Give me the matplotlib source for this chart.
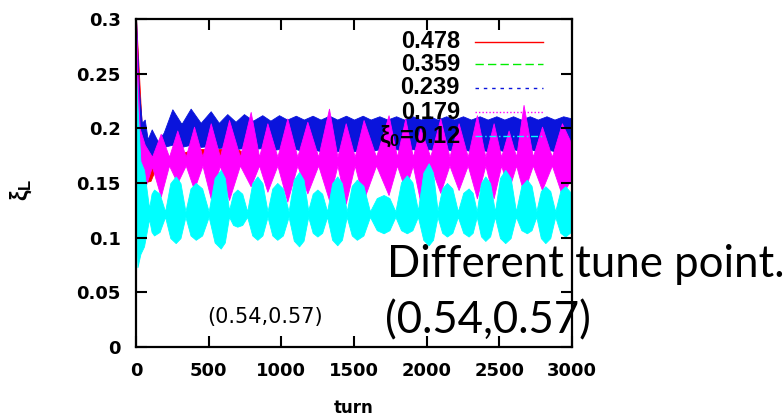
import numpy as np
import matplotlib
matplotlib.use('Agg')
import matplotlib.pyplot as plt

plt.rcParams['mathtext.fontset'] = 'custom'
plt.rcParams['mathtext.rm'] = 'Liberation Sans:bold'
plt.rcParams['mathtext.it'] = 'Liberation Sans:bold'

# envelope of xi_L vs turn for each xi_0 (upper / lower edge of the oscillation)
red_t = [0, 40, 100, 140, 200, 400, 700, 800, 3000]
red_hi = [0.300, 0.200, 0.185, 0.170, 0.172, 0.181, 0.181, 0.172, 0.172]
red_lo = [0.150, 0.150, 0.152, 0.165, 0.168, 0.168, 0.168, 0.168, 0.168]

green_t = [250, 3000]
green_hi = [0.205, 0.205]
green_lo = [0.186, 0.186]

blue_t = [0, 20, 40, 60, 80, 108, 150, 190, 250, 313, 376, 445, 514, 570, 628,
          685, 743, 805, 869, 925, 984, 1040, 1100, 1155, 1215, 1270, 1330, 1385,
          1445, 1500, 1560, 1615, 1675, 1730, 1790, 1845, 1905, 1960, 2020, 2075,
          2135, 2190, 2250, 2305, 2365, 2420, 2480, 2535, 2595, 2650, 2710, 2765,
          2825, 2880, 2940, 3000]
blue_hi = [0.300, 0.235, 0.205, 0.208, 0.190, 0.199, 0.188, 0.196, 0.2174, 0.204,
           0.218, 0.205, 0.2156, 0.205, 0.213, 0.206, 0.213, 0.207, 0.212, 0.207,
           0.212, 0.208, 0.2115, 0.208, 0.2115, 0.208, 0.2115, 0.208, 0.2115, 0.208,
           0.2115, 0.208, 0.211, 0.208, 0.211, 0.208, 0.211, 0.208, 0.211, 0.208,
           0.211, 0.208, 0.211, 0.208, 0.211, 0.208, 0.211, 0.208, 0.211, 0.208,
           0.211, 0.208, 0.211, 0.208, 0.211, 0.209]
blue_lo = [0.200, 0.170, 0.165, 0.170, 0.160, 0.165, 0.175, 0.183, 0.185, 0.183,
           0.185, 0.183, 0.184, 0.182, 0.183, 0.181, 0.182, 0.181, 0.182, 0.180,
           0.181, 0.179, 0.181, 0.179, 0.181, 0.179, 0.181, 0.179, 0.181, 0.179,
           0.181, 0.179, 0.181, 0.179, 0.181, 0.179, 0.181, 0.179, 0.181, 0.179,
           0.181, 0.179, 0.181, 0.179, 0.181, 0.179, 0.181, 0.179, 0.181, 0.179,
           0.181, 0.179, 0.181, 0.179, 0.181, 0.180]

magenta_t = [0, 10, 25, 60, 110, 170, 227, 284, 342, 399, 457, 514, 577, 640, 715,
             789, 847, 904, 973, 1041, 1110, 1179, 1254, 1328, 1386, 1443, 1505,
             1566, 1652, 1738, 1796, 1853, 1905, 1956, 2025, 2094, 2157, 2220, 2283,
             2346, 2404, 2461, 2513, 2564, 2616, 2667, 2731, 2794, 2862, 2931, 3000]
magenta_hi = [0.300, 0.250, 0.200, 0.185, 0.174, 0.195, 0.174, 0.198, 0.174, 0.2015,
              0.174, 0.2046, 0.174, 0.2076, 0.174, 0.215, 0.174, 0.2046, 0.174, 0.209,
              0.174, 0.206, 0.174, 0.218, 0.174, 0.2046, 0.174, 0.2076, 0.174, 0.212,
              0.174, 0.209, 0.174, 0.200, 0.174, 0.209, 0.174, 0.2046, 0.174, 0.212,
              0.174, 0.2046, 0.174, 0.198, 0.174, 0.2214, 0.174, 0.2015, 0.174, 0.2046,
              0.185]
magenta_lo = [0.160, 0.130, 0.140, 0.145, 0.165, 0.1375, 0.166, 0.150, 0.166, 0.144,
              0.166, 0.136, 0.166, 0.1345, 0.166, 0.147, 0.166, 0.142, 0.166, 0.133,
              0.166, 0.1405, 0.166, 0.1345, 0.166, 0.131, 0.166, 0.1345, 0.166, 0.139,
              0.166, 0.1436, 0.166, 0.133, 0.166, 0.141, 0.166, 0.1436, 0.166, 0.136,
              0.166, 0.136, 0.166, 0.1436, 0.166, 0.141, 0.166, 0.1436, 0.166, 0.139,
              0.155]

# one row per lobe: shoulder, crest, shoulder, waist
cyan_t = [0, 10, 30, 55, 90,
          107, 124, 162, 200,
          236, 273, 306, 340,
          375, 411, 455, 500,
          541, 583, 611, 640,
          668, 697, 731, 765,
          800, 835, 870, 905,
          938, 972, 1011, 1050,
          1086, 1122, 1153, 1185,
          1216, 1248, 1281, 1315,
          1350, 1385, 1417, 1450,
          1485, 1520, 1565, 1610,
          1657, 1704, 1744, 1785,
          1824, 1864, 1902, 1940,
          1977, 2014, 2044, 2075,
          2107, 2140, 2177, 2215,
          2252, 2289, 2317, 2345,
          2374, 2404, 2437, 2470,
          2505, 2541, 2578, 2615,
          2652, 2690, 2722, 2755,
          2786, 2817, 2851, 2885,
          2920, 2954, 3000]
cyan_hi = [0.250, 0.220, 0.170, 0.162, 0.127,
           0.1402, 0.144, 0.1402, 0.124,
           0.1498, 0.156, 0.1498, 0.124,
           0.145, 0.150, 0.145, 0.124,
           0.1546, 0.162, 0.1546, 0.125,
           0.1402, 0.144, 0.1402, 0.124,
           0.1498, 0.156, 0.1498, 0.124,
           0.145, 0.150, 0.145, 0.124,
           0.153, 0.160, 0.153, 0.125,
           0.1402, 0.144, 0.1402, 0.124,
           0.1498, 0.156, 0.1498, 0.124,
           0.1474, 0.153, 0.1474, 0.124,
           0.1362, 0.139, 0.1362, 0.124,
           0.1506, 0.157, 0.1506, 0.125,
           0.1594, 0.168, 0.1594, 0.125,
           0.145, 0.150, 0.145, 0.124,
           0.141, 0.145, 0.141, 0.124,
           0.1498, 0.156, 0.1498, 0.124,
           0.1546, 0.162, 0.1546, 0.124,
           0.1474, 0.153, 0.1474, 0.124,
           0.1426, 0.147, 0.1426, 0.124,
           0.1426, 0.147, 0.140]
cyan_lo = [0.120, 0.073, 0.085, 0.092, 0.117,
           0.1052, 0.102, 0.1052, 0.119,
           0.0996, 0.095, 0.0996, 0.119,
           0.102, 0.098, 0.102, 0.119,
           0.0956, 0.090, 0.0956, 0.119,
           0.1116, 0.110, 0.1116, 0.119,
           0.102, 0.098, 0.102, 0.119,
           0.102, 0.098, 0.102, 0.119,
           0.0972, 0.092, 0.0972, 0.119,
           0.1044, 0.101, 0.1044, 0.119,
           0.098, 0.093, 0.098, 0.119,
           0.102, 0.098, 0.102, 0.119,
           0.1068, 0.104, 0.1068, 0.119,
           0.1068, 0.104, 0.1068, 0.119,
           0.098, 0.093, 0.098, 0.119,
           0.1044, 0.101, 0.1044, 0.119,
           0.1044, 0.101, 0.1044, 0.119,
           0.1012, 0.097, 0.1012, 0.119,
           0.0996, 0.095, 0.0996, 0.119,
           0.1068, 0.104, 0.1068, 0.119,
           0.0996, 0.095, 0.0996, 0.119,
           0.1044, 0.101, 0.106]

labels = ['0.478', '0.359', '0.239', '0.179', r'$\xi_0$=0.12']
colors = ['#ff0000', '#00ee00', '#0a14dc', '#ff00ff', '#00ffff']
styles = ['-', (0, (6, 3)), (0, (2.5, 3.5)), (0, (1, 1.5)), (0, (5, 2, 1, 2))]

xticks = [0, 500, 1000, 1500, 2000, 2500, 3000]
yticks = [0, 0.05, 0.1, 0.15, 0.2, 0.25, 0.3]
ytick_labels = ['0', '0.05', '0.1', '0.15', '0.2', '0.25', '0.3']

fig = plt.figure(figsize=(7.84, 4.17), dpi=100)
ax = fig.add_axes([0.1735, 0.1679, 0.556, 0.7866])

bands = [(red_t, red_hi, red_lo), (green_t, green_hi, green_lo),
         (blue_t, blue_hi, blue_lo), (magenta_t, magenta_hi, magenta_lo),
         (cyan_t, cyan_hi, cyan_lo)]
for (t, hi, lo), c in zip(bands, colors):
    ax.fill_between(t, lo, hi, color=c, linewidth=0.6, edgecolor=c)

ax.set_xlim(0, 3000)
ax.set_ylim(0, 0.3)
ax.set_xticks(xticks)
ax.set_yticks(yticks)
ax.set_yticklabels(ytick_labels)
for lab in ax.get_xticklabels() + ax.get_yticklabels():
    lab.set_fontfamily('DejaVu Sans')
    lab.set_fontweight('bold')
ax.tick_params(direction='in', length=8, width=1.5, top=True, right=True,
               labelsize=13, pad=11)
for s in ax.spines.values():
    s.set_linewidth(1.6)

ax.set_xlabel('turn', fontsize=12, fontweight='bold')
ax.xaxis.set_label_coords(0.5, -0.16)
ax.set_ylabel(r'$\xi_L$', fontsize=17)
ax.yaxis.set_label_coords(-0.235, 0.48)

# key in gnuplot style: right-justified titles with a line sample
key_y = [0.930, 0.862, 0.790, 0.716, 0.643]
for lab, c, ls, y in zip(labels, colors, styles, key_y):
    ax.text(0.743, y, lab, transform=ax.transAxes, ha='right', va='center',
            fontsize=17, fontweight='bold', family='Liberation Sans')
    ax.plot([0.778, 0.933], [y, y], transform=ax.transAxes, color=c,
            linestyle=ls, linewidth=1.0)

ax.text(888, 0.0275, '(0.54,0.57)', ha='center', va='center', fontsize=15)

fig.text(0.4936, 0.3357, 'Different tune point.', fontsize=31.5,
         family='Lato', va='baseline', ha='left')
fig.text(0.4911, 0.2014, '(0.54,0.57)', fontsize=31.5,
         family='Lato', va='baseline', ha='left')

fig.savefig('out.png', dpi=100)
